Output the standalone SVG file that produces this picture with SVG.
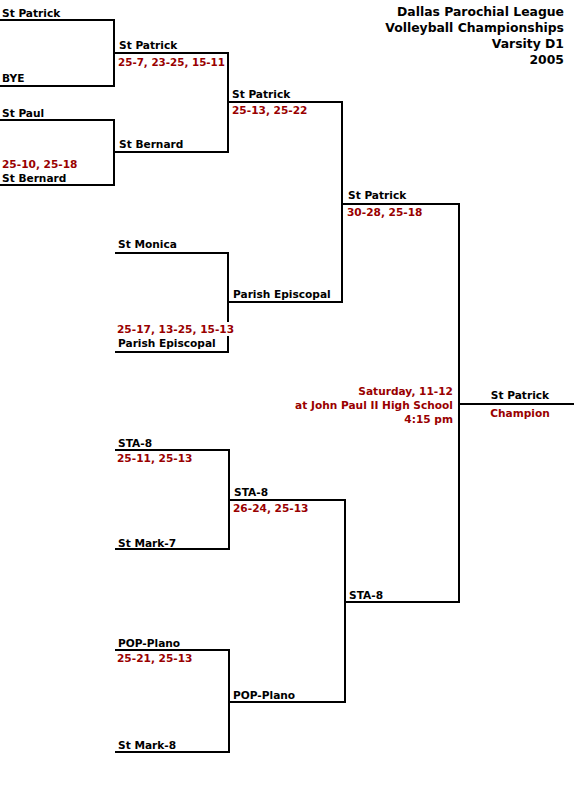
<svg xmlns="http://www.w3.org/2000/svg" width="574" height="800" viewBox="0 0 574 800">
<style>
text{font-family:"DejaVu Sans",Verdana,"Liberation Sans",sans-serif;font-weight:bold;font-size:10.6px;fill:#000}
.s{fill:#990000}
.t{font-size:12.4px;text-anchor:end}
.r{text-anchor:end}
.m{text-anchor:middle}
.ln{fill:none;stroke:#000;stroke-width:2;stroke-linecap:square}
</style>
<rect width="574" height="800" fill="#fff"/>
<g id="connectors" class="ln">
<path d="M0 20H114V86H0"/>
<path d="M0 120H114V185H0"/>
<path d="M114 53H228V152H114"/>
<path d="M228 102H342V302H228"/>
<path d="M116 253H228V352H116"/>
<path d="M342 204H459V602H345"/>
<path d="M116 450H229V549H116"/>
<path d="M229 500H345V702H229"/>
<path d="M116 650H229V752H116"/>
<path d="M459 404H574"/>
</g>
<g id="title">
<text class="t" x="564" y="16">Dallas Parochial League</text>
<text class="t" x="564" y="32">Volleyball Championships</text>
<text class="t" x="564" y="48">Varsity D1</text>
<text class="t" x="564" y="64">2005</text>
</g>
<g id="r1-m1"><text x="2" y="17">St Patrick</text><text x="2" y="82">BYE</text></g>
<g id="r1-m2"><text x="2" y="117">St Paul</text><text class="s" x="2" y="168">25-10, 25-18</text><text x="2" y="182">St Bernard</text></g>
<g id="r2-m1"><text x="119" y="49">St Patrick</text><text class="s" x="118" y="66" textLength="107" lengthAdjust="spacingAndGlyphs">25-7, 23-25, 15-11</text><text x="119" y="148">St Bernard</text></g>
<g id="r2-m2"><text x="118" y="248">St Monica</text><rect x="116" y="322" width="124" height="14" fill="#fff"/><text class="s" x="117" y="333">25-17, 13-25, 15-13</text><text x="118" y="347">Parish Episcopal</text></g>
<g id="r3-m1"><text x="232" y="98">St Patrick</text><text class="s" x="232" y="114">25-13, 25-22</text><text x="233" y="298">Parish Episcopal</text></g>
<g id="r4-m1"><text x="348" y="199">St Patrick</text><text class="s" x="347" y="216">30-28, 25-18</text></g>
<g id="r2-m3"><text x="118" y="447">STA-8</text><text class="s" x="117" y="462">25-11, 25-13</text><text x="118" y="547">St Mark-7</text></g>
<g id="r3-m2"><text x="234" y="496">STA-8</text><text class="s" x="233" y="512">26-24, 25-13</text><text x="233" y="699">POP-Plano</text></g>
<g id="r2-m4"><text x="118" y="647">POP-Plano</text><text class="s" x="117" y="662">25-21, 25-13</text><text x="118" y="749">St Mark-8</text></g>
<g id="r4-m2"><text x="349" y="599">STA-8</text></g>
<g id="final">
<text class="s r" x="453" y="395">Saturday, 11-12</text>
<text class="s r" x="453" y="409">at John Paul II High School</text>
<text class="s r" x="453" y="423">4:15 pm</text>
<text class="m" x="520" y="399">St Patrick</text>
<text class="s m" x="520" y="417">Champion</text>
</g>
</svg>
